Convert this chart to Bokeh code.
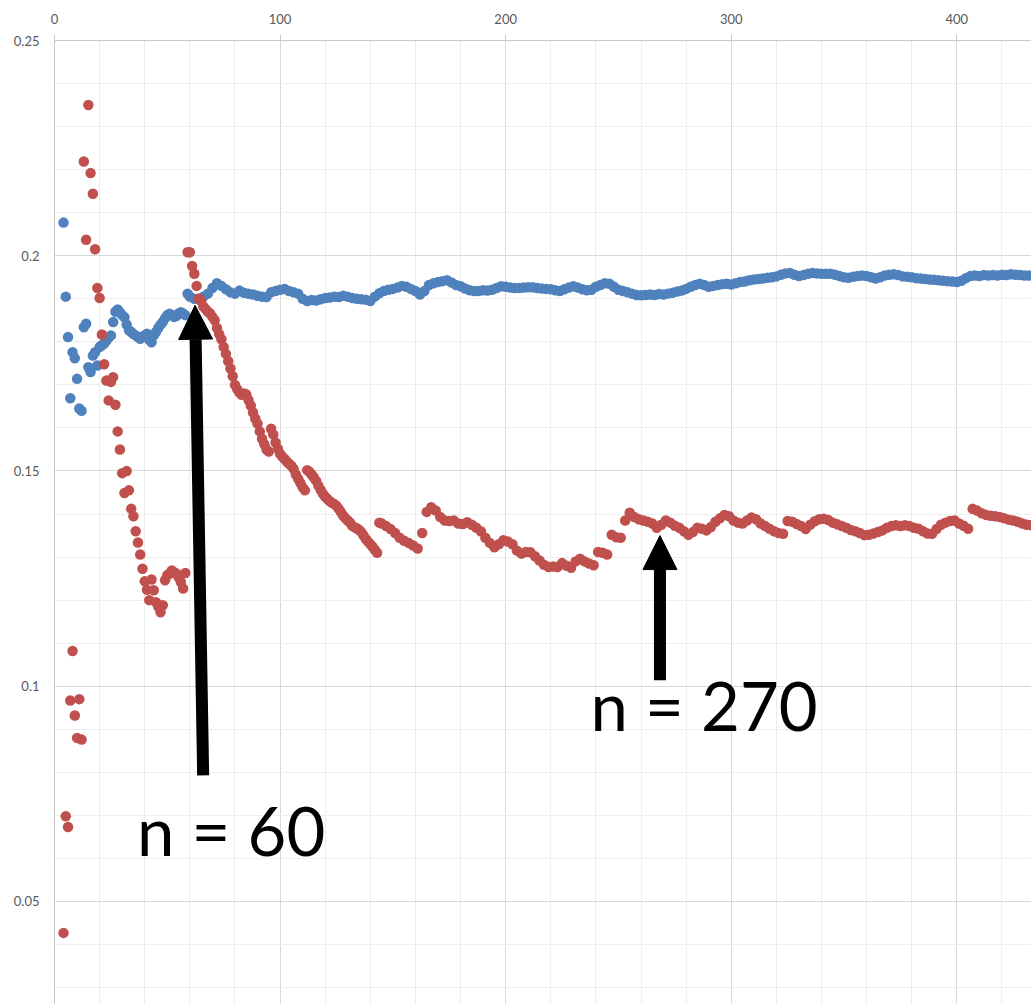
from bokeh.plotting import figure
from bokeh.models import FixedTicker, Arrow, NormalHead, Range1d, Label
from bokeh.embed import file_html
from bokeh.resources import INLINE

# ---------------- data ----------------
# blue series, early part: one point per n (n = 4 .. 59)
blue_early_n = list(range(4, 60))
blue_early = [
    0.2077, 0.1905, 0.1811, 0.1669, 0.1776, 0.1762, 0.1714, 0.1645, 0.1640, 0.1834,
    0.1842, 0.1741, 0.1730, 0.1768, 0.1776, 0.1745, 0.1788, 0.1792, 0.1796, 0.1803,
    0.1810, 0.1815, 0.1846, 0.1870, 0.1875, 0.1869, 0.1862, 0.1857, 0.1840, 0.1827,
    0.1823, 0.1818, 0.1815, 0.1811, 0.1807, 0.1812, 0.1815, 0.1819, 0.1805, 0.1799,
    0.1815, 0.1823, 0.1832, 0.1840, 0.1846, 0.1855, 0.1862, 0.1865, 0.1862, 0.1858,
    0.1860, 0.1866, 0.1869, 0.1866, 0.1862, 0.1912,
]
# blue series, dense part (read every 2nd n, n = 60 .. 432)
blue_late = [
    0.1905, 0.1900, 0.1900, 0.1905, 0.1912, 0.1925, 0.1936, 0.1930, 0.1922, 0.1915,
    0.1912, 0.1919, 0.1914, 0.1912, 0.1910, 0.1907, 0.1905, 0.1904, 0.1915, 0.1918,
    0.1921, 0.1923, 0.1918, 0.1915, 0.1912, 0.1900, 0.1895, 0.1897, 0.1896, 0.1899,
    0.1902, 0.1903, 0.1905, 0.1904, 0.1907, 0.1905, 0.1902, 0.1900, 0.1899, 0.1898,
    0.1895, 0.1905, 0.1913, 0.1918, 0.1921, 0.1923, 0.1926, 0.1930, 0.1928, 0.1923,
    0.1918, 0.1910, 0.1918, 0.1932, 0.1936, 0.1939, 0.1941, 0.1943, 0.1938, 0.1932,
    0.1929, 0.1924, 0.1920, 0.1918, 0.1918, 0.1920, 0.1919, 0.1921, 0.1925, 0.1929,
    0.1928, 0.1926, 0.1925, 0.1925, 0.1926, 0.1927, 0.1927, 0.1925, 0.1924, 0.1923,
    0.1922, 0.1920, 0.1918, 0.1922, 0.1926, 0.1929, 0.1926, 0.1922, 0.1920, 0.1921,
    0.1928, 0.1932, 0.1936, 0.1935, 0.1928, 0.1921, 0.1918, 0.1915, 0.1912, 0.1909,
    0.1908, 0.1909, 0.1910, 0.1909, 0.1911, 0.1910, 0.1912, 0.1914, 0.1917, 0.1919,
    0.1923, 0.1928, 0.1932, 0.1935, 0.1932, 0.1928, 0.1930, 0.1932, 0.1934, 0.1935,
    0.1933, 0.1936, 0.1939, 0.1940, 0.1943, 0.1945, 0.1946, 0.1947, 0.1949, 0.1950,
    0.1952, 0.1956, 0.1959, 0.1960, 0.1956, 0.1953, 0.1955, 0.1958, 0.1960, 0.1959,
    0.1958, 0.1958, 0.1958, 0.1956, 0.1953, 0.1950, 0.1949, 0.1951, 0.1953, 0.1954,
    0.1953, 0.1950, 0.1947, 0.1950, 0.1954, 0.1956, 0.1957, 0.1955, 0.1952, 0.1951,
    0.1950, 0.1948, 0.1947, 0.1946, 0.1945, 0.1944, 0.1943, 0.1942, 0.1941, 0.1940,
    0.1939, 0.1942, 0.1948, 0.1953, 0.1954, 0.1953, 0.1955, 0.1954, 0.1955, 0.1954,
    0.1956, 0.1955, 0.1957, 0.1956, 0.1955, 0.1954, 0.1954,
]
blue_late_n = list(range(60, 60 + 2 * len(blue_late), 2))

# red series, early part: one point per n (n = 4 .. 64)
red_early_n = list(range(4, 65))
red_early = [
    0.0427, 0.0698, 0.0673, 0.0967, 0.1082, 0.0932, 0.0880, 0.0970, 0.0876, 0.2219,
    0.2037, 0.2350, 0.2192, 0.2144, 0.2015, 0.1925, 0.1902, 0.1817, 0.1748, 0.1710,
    0.1664, 0.1707, 0.1718, 0.1654, 0.1592, 0.1550, 0.1495, 0.1449, 0.1500, 0.1455,
    0.1412, 0.1395, 0.1360, 0.1334, 0.1306, 0.1273, 0.1244, 0.1224, 0.1200, 0.1248,
    0.1223, 0.1195, 0.1185, 0.1172, 0.1188, 0.1246, 0.1258, 0.1262, 0.1269, 0.1265,
    0.1262, 0.1253, 0.1242, 0.1227, 0.1263, 0.2008, 0.2008, 0.1976, 0.1958, 0.1930,
    0.1900,
]
# red series, steep part: one point per n (n = 65 .. 145)
red_mid_n = list(range(65, 146))
red_mid = [
    0.1895, 0.1882, 0.1876, 0.1870, 0.1866, 0.1858, 0.1850, 0.1832, 0.1818, 0.1806,
    0.1788, 0.1772, 0.1755, 0.1738, 0.1720, 0.1700, 0.1690, 0.1682, 0.1677, 0.1680,
    0.1678, 0.1665, 0.1652, 0.1636, 0.1622, 0.1610, 0.1592, 0.1575, 0.1562, 0.1550,
    0.1545, 0.1598, 0.1585, 0.1566, 0.1552, 0.1540, 0.1533, 0.1528, 0.1522, 0.1517,
    0.1512, 0.1505, 0.1492, 0.1482, 0.1472, 0.1462, 0.1455, 0.1502, 0.1498, 0.1492,
    0.1485, 0.1477, 0.1466, 0.1456, 0.1447, 0.1440, 0.1435, 0.1430, 0.1426, 0.1423,
    0.1419, 0.1412, 0.1404, 0.1396, 0.1390, 0.1385, 0.1380, 0.1373, 0.1369, 0.1367,
    0.1363, 0.1358, 0.1350, 0.1342, 0.1336, 0.1330, 0.1324, 0.1317, 0.1310, 0.1380,
    0.1378,
]
# red series, flatter part (read every 2nd n, n = 147 .. 433)
red_late = [
    0.1372, 0.1365, 0.1356, 0.1345, 0.1338, 0.1333, 0.1327, 0.1320, 0.1356,
    0.1405, 0.1416, 0.1408, 0.1393, 0.1385, 0.1384, 0.1385, 0.1378, 0.1377, 0.1381,
    0.1375, 0.1368, 0.1360, 0.1345, 0.1333, 0.1323, 0.1330, 0.1339, 0.1336, 0.1330,
    0.1315, 0.1308, 0.1312, 0.1311, 0.1302, 0.1292, 0.1282, 0.1277, 0.1278, 0.1277,
    0.1286, 0.1280, 0.1275, 0.1290, 0.1296, 0.1290, 0.1285, 0.1281, 0.1312, 0.1310,
    0.1306, 0.1352, 0.1346, 0.1345, 0.1385, 0.1403, 0.1393, 0.1388, 0.1385, 0.1382,
    0.1378, 0.1368, 0.1375, 0.1385, 0.1380, 0.1373, 0.1368, 0.1360, 0.1352, 0.1358,
    0.1368, 0.1366, 0.1362, 0.1370, 0.1382, 0.1390, 0.1398, 0.1395, 0.1385, 0.1380,
    0.1378, 0.1385, 0.1392, 0.1388, 0.1378, 0.1372, 0.1366, 0.1360, 0.1356, 0.1354,
    0.1384, 0.1382, 0.1377, 0.1372, 0.1365, 0.1375, 0.1383, 0.1388, 0.1389, 0.1386,
    0.1380, 0.1376, 0.1372, 0.1368, 0.1363, 0.1360, 0.1356, 0.1351, 0.1352, 0.1355,
    0.1358, 0.1362, 0.1368, 0.1372, 0.1374, 0.1372, 0.1374, 0.1372, 0.1368, 0.1366,
    0.1360, 0.1355, 0.1354, 0.1365, 0.1375, 0.1380, 0.1384, 0.1385, 0.1378, 0.1373,
    0.1366, 0.1412, 0.1408, 0.1402, 0.1398, 0.1396, 0.1395, 0.1393, 0.1390, 0.1387,
    0.1385, 0.1382, 0.1378, 0.1375, 0.1374,
]
red_late_n = list(range(147, 147 + 2 * len(red_late), 2))

blue_n = blue_early_n + blue_late_n
blue_v = blue_early + blue_late
red_n = red_early_n + red_mid_n + red_late_n
red_v = red_early + red_mid + red_late

x_ticks = [0, 100, 200, 300, 400]
x_minor = [20, 40, 60, 80, 120, 140, 160, 180, 220, 240, 260, 280,
           320, 340, 360, 380, 420]
y_ticks = [0.05, 0.10, 0.15, 0.20, 0.25]
y_tick_labels = ["0.05", "0.1", "0.15", "0.2", "0.25"]
y_minor = [0.03, 0.04, 0.06, 0.07, 0.08, 0.09, 0.11, 0.12, 0.13, 0.14,
           0.16, 0.17, 0.18, 0.19, 0.21, 0.22, 0.23, 0.24]

# annotations: (text, x_tail, y_tail, x_tip, y_tip, x_text, y_text)
annotations = [
    ("n = 60", 65.9, 0.0793, 62.3, 0.1885, 36.6, 0.0665),
    ("n = 270", 268.4, 0.1014, 268.4, 0.1350, 237.6, 0.0956),
]

BLUE = "#4F81BD"
RED = "#C0504D"

p = figure(width=1031, height=1004, output_backend="svg", toolbar_location=None,
           x_range=Range1d(0, 433.1), y_range=Range1d(0.02607, 0.25),
           x_axis_location="above",
           min_border_left=54, min_border_top=40,
           min_border_right=0, min_border_bottom=0)
p.outline_line_color = None
p.background_fill_color = "white"
p.border_fill_color = "white"

# axes
xa = p.xaxis[0]
xa.ticker = FixedTicker(ticks=x_ticks, minor_ticks=x_minor)
xa.axis_line_color = "#c8c8c8"
xa.major_tick_line_color = "#c8c8c8"
xa.major_tick_out = 6
xa.major_tick_in = 0
xa.minor_tick_out = 0
xa.minor_tick_in = 0
xa.major_label_standoff = 11
xa.major_label_text_font = "Lato"
xa.major_label_text_font_size = "13px"
xa.major_label_text_color = "#595959"

ya = p.yaxis[0]
ya.ticker = FixedTicker(ticks=y_ticks, minor_ticks=y_minor)
ya.major_label_overrides = dict(zip(y_ticks, y_tick_labels))
ya.axis_line_color = "#c8c8c8"
ya.major_tick_out = 0
ya.major_tick_in = 0
ya.minor_tick_out = 0
ya.minor_tick_in = 0
ya.major_label_standoff = 15
ya.major_label_text_font = "Lato"
ya.major_label_text_font_size = "13px"
ya.major_label_text_color = "#595959"

for g in (p.xgrid[0], p.ygrid[0]):
    g.grid_line_color = "#d9d9d9"
    g.minor_grid_line_color = "#eeeeee"
    g.grid_line_width = 1
    g.minor_grid_line_width = 1

# series
p.scatter(blue_n, blue_v, size=10.5, fill_color=BLUE, line_color=None)
p.scatter(red_n, red_v, size=10.5, fill_color=RED, line_color=None)

# arrows and labels
for text, xt, yt, xh, yh, xl, yl in annotations:
    p.add_layout(Arrow(end=NormalHead(size=34, fill_color="black",
                                      line_color="black", line_width=1),
                       x_start=xt, y_start=yt, x_end=xh, y_end=yh,
                       line_width=12, line_color="black"))
    p.add_layout(Label(x=xl, y=yl, text=text, text_font="Lato",
                       text_font_size="67px", text_color="black",
                       text_align="left", text_baseline="alphabetic"))

open("out.html", "w").write(file_html(p, INLINE))
